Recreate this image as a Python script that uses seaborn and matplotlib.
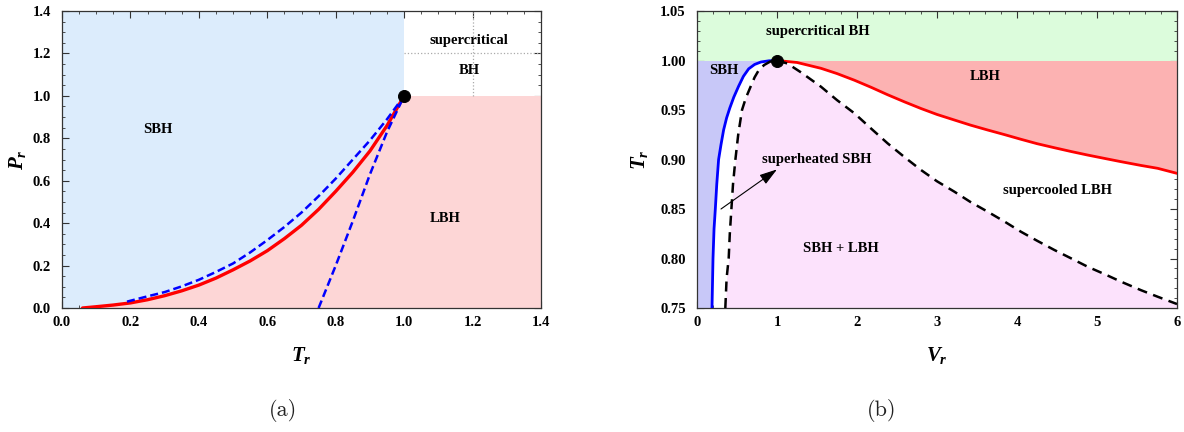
import numpy as np
import pandas as pd
import matplotlib
matplotlib.use("Agg")
import matplotlib.pyplot as plt
import seaborn as sns

# ---------------- data ----------------
# Panel (a): P_r vs T_r
coex_T = [0.06, 0.10, 0.15, 0.20, 0.25, 0.30, 0.35, 0.40, 0.45, 0.50, 0.55, 0.60,
          0.65, 0.70, 0.75, 0.80, 0.85, 0.90, 0.95, 1.00]
coex_P = [0.0, 0.006, 0.014, 0.024, 0.039, 0.058, 0.081, 0.108, 0.141, 0.18, 0.222, 0.27,
          0.327, 0.39, 0.465, 0.55, 0.64, 0.74, 0.86, 1.00]

spin_up_T = [0.19, 0.25, 0.30, 0.35, 0.40, 0.45, 0.50, 0.55, 0.60, 0.65, 0.70, 0.75,
             0.80, 0.85, 0.90, 0.95, 1.00]
spin_up_P = [0.03, 0.055, 0.075, 0.102, 0.133, 0.17, 0.21, 0.262, 0.32, 0.382, 0.45, 0.527,
             0.61, 0.70, 0.79, 0.89, 1.00]

spin_lo_T = [0.750, 0.800, 0.850, 0.900, 0.950, 1.000]
spin_lo_P = [0.0, 0.20, 0.41, 0.63, 0.83, 1.00]

crit_a = (1.0, 1.0)

a_xticks = [0.0, 0.2, 0.4, 0.6, 0.8, 1.0, 1.2, 1.4]
a_yticks = [0.0, 0.2, 0.4, 0.6, 0.8, 1.0, 1.2, 1.4]
a_xticklabels = ["0.0", "0.2", "0.4", "0.6", "0.8", "1.0", "1.2", "1.4"]
a_yticklabels = ["0.0", "0.2", "0.4", "0.6", "0.8", "1.0", "1.2", "1.4"]

# Panel (b): T_r vs V_r
sbh_V = [0.1875, 0.195, 0.200, 0.213, 0.229, 0.247, 0.270, 0.300, 0.333, 0.370, 0.410,
         0.460, 0.520, 0.580, 0.646, 0.720, 0.800, 0.900, 1.000]
sbh_T = [0.750, 0.780, 0.800, 0.830, 0.850, 0.875, 0.900, 0.915, 0.930, 0.942, 0.952,
         0.963, 0.974, 0.984, 0.9916, 0.996, 0.9985, 0.9997, 1.000]

spinL_V = [0.354, 0.370, 0.396, 0.410, 0.430, 0.450, 0.480, 0.515, 0.5625, 0.610, 0.667,
           0.720, 0.770, 0.840, 0.917, 1.000]
spinL_T = [0.750, 0.780, 0.800, 0.825, 0.850, 0.875, 0.900, 0.925, 0.950, 0.962, 0.973,
           0.983, 0.990, 0.9955, 0.999, 1.000]

spinR_V = [1.000, 1.13, 1.30, 1.55, 1.75, 1.967, 2.18, 2.383, 2.60, 2.80, 3.00, 3.217,
           3.42, 3.633, 3.85, 4.05, 4.25, 4.467, 4.68, 4.883, 5.10, 5.30, 5.55, 5.758, 6.00]
spinR_T = [1.000, 0.997, 0.988, 0.9735, 0.960, 0.9467, 0.931, 0.9163, 0.902, 0.8894, 0.878,
           0.8675, 0.857, 0.8473, 0.837, 0.827, 0.818, 0.8086, 0.800, 0.7917, 0.784, 0.7766,
           0.768, 0.7614, 0.754]

lbh_V = [1.000, 1.25, 1.55, 1.75, 1.967, 2.18, 2.383, 2.60, 2.80, 3.00, 3.217, 3.42,
         3.633, 3.85, 4.05, 4.25, 4.467, 4.68, 4.883, 5.10, 5.30, 5.55, 5.758, 6.00]
lbh_T = [1.000, 0.998, 0.9921, 0.9868, 0.9801, 0.9728, 0.9654, 0.9580, 0.9515, 0.9455, 0.9399,
         0.9347, 0.9298, 0.925, 0.9204, 0.916, 0.9119, 0.908, 0.9045, 0.901, 0.8978, 0.894,
         0.8911, 0.886]

crit_b = (1.0, 1.0)

b_xticks = [0, 1, 2, 3, 4, 5, 6]
b_yticks = [0.75, 0.80, 0.85, 0.90, 0.95, 1.00, 1.05]
b_xticklabels = ["0", "1", "2", "3", "4", "5", "6"]
b_yticklabels = ["0.75", "0.80", "0.85", "0.90", "0.95", "1.00", "1.05"]

# ---------------- style ----------------
sns.set_theme(style="ticks")
plt.rcParams["font.family"] = ["Liberation Serif", "DejaVu Serif"]
plt.rcParams["font.weight"] = "bold"
plt.rcParams["text.color"] = "black"
plt.rcParams["axes.labelcolor"] = "black"
plt.rcParams["xtick.color"] = "black"
plt.rcParams["ytick.color"] = "black"
plt.rcParams["mathtext.fontset"] = "custom"
plt.rcParams["mathtext.it"] = "Liberation Serif:italic:bold"
plt.rcParams["mathtext.rm"] = "Liberation Serif:bold"

W, H = 1184, 432
fig = plt.figure(figsize=(W / 100, H / 100), dpi=100)
axA = fig.add_axes([62 / W, (H - 308) / H, 479 / W, 297 / H])
axB = fig.add_axes([697 / W, (H - 308) / H, 480 / W, 297 / H])

c_sbh_a = "#dcecfc"
c_lbh_a = "#fdd6d6"
c_green = "#dcfcdc"
c_lav = "#c8c8f8"
c_mag = "#fce2fc"
c_salmon = "#fcb2b2"


def style_axes(ax, xt, xl, yt, yl, xminor, yminor):
    ax.set_xticks(xt)
    ax.set_xticklabels(xl)
    ax.set_yticks(yt)
    ax.set_yticklabels(yl)
    ax.set_xticks(xminor, minor=True)
    ax.set_yticks(yminor, minor=True)
    ax.tick_params(which="both", direction="in", top=True, right=True,
                   color="#333333", labelcolor="black", labelsize=10.5)
    ax.tick_params(axis="x", which="both", pad=6)
    ax.tick_params(axis="y", which="both", pad=8)
    ax.tick_params(which="major", length=5, width=0.8)
    ax.tick_params(which="minor", length=2.5, width=0.6)
    for s in ax.spines.values():
        s.set_color("#333333")
        s.set_linewidth(0.9)
    for lab in ax.get_xticklabels() + ax.get_yticklabels():
        lab.set_fontweight("bold")


# ---------------- panel (a) ----------------
ax = axA
ax.set_xlim(0, 1.4)
ax.set_ylim(0, 1.4)
ax.fill_between([0, 1.0], 0, 1.4, color=c_sbh_a, lw=0, zorder=0)
ax.fill_between(coex_T, 0, coex_P, color=c_lbh_a, lw=0, zorder=1)
ax.fill_between([1.0, 1.4], 0, 1.0, color=c_lbh_a, lw=0, zorder=1)
ax.plot([1.2, 1.2], [1.0, 1.4], ls=":", color="#aaaaaa", lw=0.9, zorder=1)
ax.plot([1.0, 1.4], [1.2, 1.2], ls=":", color="#aaaaaa", lw=0.9, zorder=1)

sns.lineplot(x=coex_T, y=coex_P, ax=ax, color="#ff0000", lw=2.4, sort=False, zorder=3)
sns.lineplot(x=spin_up_T, y=spin_up_P, ax=ax, color="#0000ff", lw=1.8, sort=False,
             zorder=4).lines[-1].set_dashes([3.2, 1.6])
sns.lineplot(x=spin_lo_T, y=spin_lo_P, ax=ax, color="#0000ff", lw=1.8, sort=False,
             zorder=4).lines[-1].set_dashes([3.2, 1.6])
sns.scatterplot(x=[crit_a[0]], y=[crit_a[1]], ax=ax, color="black", s=75,
                zorder=6, clip_on=False, edgecolor="black")

tk = dict(fontsize=10.5, fontweight="bold", ha="center", va="center", zorder=7,
          color="black")
ax.text(0.28, 0.84, "SBH", **tk)
ax.text(1.12, 0.42, "LBH", **tk)
ax.text(1.19, 1.26, "supercritical", **tk)
ax.text(1.19, 1.12, "BH", **tk)

style_axes(ax, a_xticks, a_xticklabels, a_yticks, a_yticklabels,
           np.arange(0, 1.4001, 0.05), np.arange(0, 1.4001, 0.05))
ax.set_xlabel("$T_r$", fontsize=15)
ax.set_ylabel("$P_r$", fontsize=15)
ax.xaxis.set_label_coords(0.5, (308 - 355) / 297)
ax.yaxis.set_label_coords((18 - 62) / 479, 0.5)

# ---------------- panel (b) ----------------
ax = axB
ax.set_xlim(0, 6)
ax.set_ylim(0.75, 1.05)
ax.fill_between([0, 6], 1.0, 1.05, color=c_green, lw=0, zorder=0)
ax.fill_betweenx(sbh_T, 0, sbh_V, color=c_lav, lw=0, zorder=1)
dash_V = spinL_V + spinR_V[1:]
dash_T = spinL_T + spinR_T[1:]
ax.fill_between(dash_V, 0.75, dash_T, color=c_mag, lw=0, zorder=1)
ax.fill_between(lbh_V, lbh_T, 1.0, color=c_salmon, lw=0, zorder=1)

sns.lineplot(x=sbh_V, y=sbh_T, ax=ax, color="#0000ff", lw=2.0, sort=False, zorder=3)
sns.lineplot(x=lbh_V, y=lbh_T, ax=ax, color="#ff0000", lw=2.0, sort=False, zorder=3)
sns.lineplot(x=dash_V, y=dash_T, ax=ax, color="black", lw=1.8, sort=False,
             zorder=4).lines[-1].set_dashes([4, 2.6])
sns.scatterplot(x=[crit_b[0]], y=[crit_b[1]], ax=ax, color="black", s=75,
                zorder=6, clip_on=False, edgecolor="black")

ax.annotate("", xy=(1.0, 0.890), xytext=(0.30, 0.850),
            arrowprops=dict(arrowstyle="-|>,head_length=0.9,head_width=0.28",
                            color="black", lw=0.8, shrinkA=0, shrinkB=0), zorder=7)

ax.text(1.51, 1.0294, "supercritical BH", **tk)
ax.text(0.33, 0.990, "SBH", **tk)
ax.text(3.60, 0.984, "LBH", **tk)
ax.text(1.50, 0.900, "superheated SBH", **tk)
ax.text(4.51, 0.869, "supercooled LBH", **tk)
ax.text(1.80, 0.810, "SBH + LBH", **tk)

style_axes(ax, b_xticks, b_xticklabels, b_yticks, b_yticklabels,
           np.arange(0, 6.001, 0.2), np.arange(0.75, 1.0501, 0.01))
ax.set_xlabel("$V_r$", fontsize=15)
ax.set_ylabel("$T_r$", fontsize=15)
ax.xaxis.set_label_coords(0.5, (308 - 355) / 297)
ax.yaxis.set_label_coords((640 - 697) / 480, 0.5)

for a in (axA, axB):
    a.xaxis.label.set_va("center")
    a.yaxis.label.set_va("center")
    if a.get_legend() is not None:
        a.get_legend().remove()

fig.text(283 / W, 1 - 410 / H, "(a)", family="cmr10", fontweight="normal",
         fontsize=16, ha="center", va="center", color="#222222")
fig.text(882 / W, 1 - 410 / H, "(b)", family="cmr10", fontweight="normal",
         fontsize=16, ha="center", va="center", color="#222222")

fig.savefig("out.png", dpi=100)
